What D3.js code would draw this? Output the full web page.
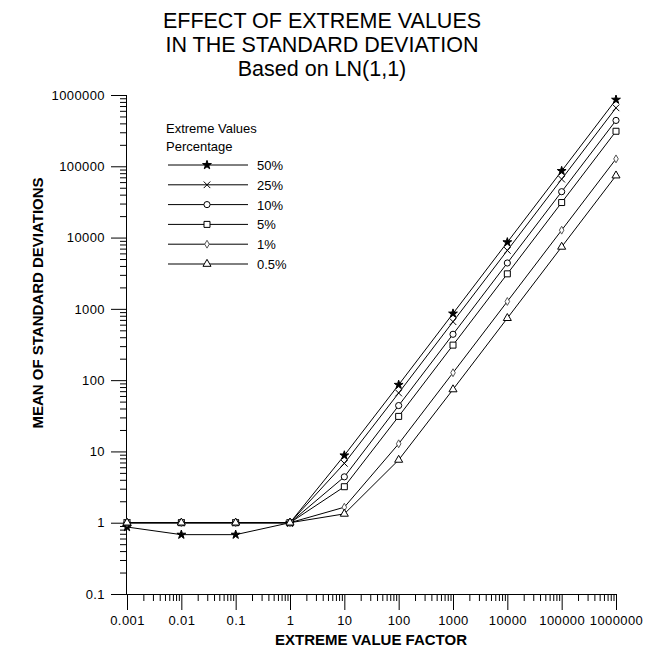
<!DOCTYPE html>
<html>
<head>
<meta charset="utf-8">
<script src="https://cdn.jsdelivr.net/npm/d3@7"></script>
<style>
  body { margin: 0; background: #fff; }
  text { font-family: "Liberation Sans", Arial, sans-serif; fill: #000; }
</style>
</head>
<body>
<div id="chart"></div>
<script>
// extreme value factors (x)
const factors = [0.001, 0.01, 0.1, 1, 10, 100, 1000, 10000, 100000, 1000000];
const seriesNames = ["50%", "25%", "10%", "5%", "1%", "0.5%"];
const s50  = [0.87, 0.68, 0.68, 1, 8.8, 86, 860, 8600, 86000, 860000];
const s25  = [1, 1, 1, 1, 6.8, 66, 660, 6600, 66000, 660000];
const s10  = [1, 1, 1, 1, 4.4, 44, 440, 4400, 44000, 440000];
const s5   = [1, 1, 1, 1, 3.2, 31, 310, 3100, 31000, 310000];
const s1   = [1, 1, 1, 1, 1.65, 12.8, 127, 1270, 12700, 127000];
const s05  = [1, 1, 1, 1, 1.33, 7.6, 74, 740, 7400, 74000];
const xTickLabels = ["0.001", "0.01", "0.1", "1", "10", "100", "1000", "10000", "100000", "1000000"];
const yTicks = [0.1, 1, 10, 100, 1000, 10000, 100000, 1000000];
const yTickLabels = ["0.1", "1", "10", "100", "1000", "10000", "100000", "1000000"];

const allSeries = [s50, s25, s10, s5, s1, s05];
const symbols = [d3.symbolStar, d3.symbolTimes || d3.symbolX, d3.symbolCircle,
                 d3.symbolSquare, d3.symbolDiamond, d3.symbolTriangle];
const symSize = [24, 30, 30, 36, 18, 28];

const W = 652, H = 652;
const svg = d3.select("#chart").append("svg")
    .attr("width", W).attr("height", H);

const x = d3.scaleLog().domain([0.001, 1000000]).range([127, 616]);
const y = d3.scaleLog().domain([0.1, 1000000]).range([594, 95]);

// minor tick values (2..9 per decade)
function minors(lo, hi) {
  const out = [];
  for (let e = Math.log10(lo); e < Math.log10(hi); e++)
    for (let k = 2; k <= 9; k++) out.push(k * Math.pow(10, e));
  return out;
}

// x axis
svg.append("g")
    .attr("transform", "translate(0,594)")
    .call(d3.axisBottom(x).tickValues(minors(0.001, 1000000)).tickSize(7).tickFormat(""))
    .call(g => g.select(".domain").remove());
svg.append("g")
    .attr("class", "x-axis")
    .attr("transform", "translate(0,594)")
    .call(d3.axisBottom(x).tickValues(factors).tickSize(16).tickPadding(6)
      .tickFormat((d, i) => xTickLabels[i]))
    .call(g => g.select(".domain").attr("d", "M127,0.5H616"))
    .selectAll("text").style("font-size", "13px").style("letter-spacing", "0.4px");

// y axis
svg.append("g")
    .attr("transform", "translate(127,0)")
    .call(d3.axisLeft(y).tickValues(minors(0.1, 1000000)).tickSize(7).tickFormat(""))
    .call(g => g.select(".domain").remove());
svg.append("g")
    .attr("class", "y-axis")
    .attr("transform", "translate(127,0)")
    .call(d3.axisLeft(y).tickValues(yTicks).tickSize(16).tickPadding(6)
      .tickFormat((d, i) => yTickLabels[i]))
    .call(g => g.select(".domain").attr("d", "M-0.5,594V95"))
    .selectAll("text").style("font-size", "13px").style("letter-spacing", "0.4px");

svg.selectAll(".tick line").attr("stroke", "#000");

// titles
const titles = ["EFFECT OF EXTREME VALUES", "IN THE STANDARD DEVIATION", "Based on LN(1,1)"];
svg.selectAll(".title").data(titles).enter().append("text")
    .attr("x", 322).attr("y", (d, i) => 28 + i * 24)
    .attr("text-anchor", "middle")
    .style("font-size", "21.5px")
    .text(d => d);

svg.append("text")
    .attr("x", 371).attr("y", 645)
    .attr("text-anchor", "middle")
    .style("font-size", "15px").style("font-weight", "bold")
    .text("EXTREME VALUE FACTOR");

svg.append("text")
    .attr("transform", "translate(43,303) rotate(-90)")
    .attr("text-anchor", "middle")
    .style("font-size", "15px").style("font-weight", "bold")
    .text("MEAN OF STANDARD DEVIATIONS");

// lines + markers
const line = d3.line().x((d, i) => x(factors[i])).y(d => y(d));
function drawSymbol(g, i) {
  const filled = i === 0;
  g.attr("d", d3.symbol().type(symbols[i]).size(symSize[i]))
    .attr("fill", filled ? "#000" : "#fff")
    .attr("stroke", i === 4 ? "#555" : "#000")
    .attr("stroke-width", 1);
}

allSeries.forEach((s, i) => {
  svg.append("path")
      .datum(s)
      .attr("fill", "none")
      .attr("stroke", "#000")
      .attr("stroke-width", 1)
      .attr("d", line);
});
allSeries.forEach((s, i) => {
  svg.selectAll(".m" + i)
      .data(s).enter().append("path")
      .attr("transform", (d, j) => "translate(" + x(factors[j]) + "," + y(d) + ")")
      .call(drawSymbol, i);
});

// legend
const lg = svg.append("g");
lg.append("text").attr("x", 166).attr("y", 133).style("font-size", "13px").text("Extreme Values");
lg.append("text").attr("x", 166).attr("y", 151).style("font-size", "13px").text("Percentage");
seriesNames.forEach((name, i) => {
  const yy = 165 + i * 19.8;
  lg.append("line").attr("x1", 168).attr("x2", 248).attr("y1", yy).attr("y2", yy)
    .attr("stroke", "#000");
  lg.append("path").attr("transform", "translate(207," + yy + ")").call(drawSymbol, i);
  lg.append("text").attr("x", 257).attr("y", yy + 5).style("font-size", "13px").text(name);
});
</script>
</body>
</html>
